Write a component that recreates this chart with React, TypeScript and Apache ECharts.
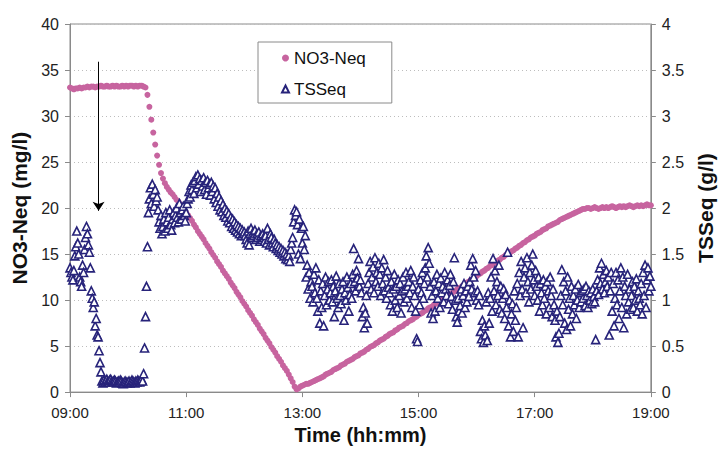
import React, { useEffect, useRef } from "react";
import * as echarts from "echarts";

// Time axis: minutes after 09:00
const X_MAX_MIN = 600;
const X_TICK_STEP_MIN = 120;
const xTickLabels = ["09:00", "11:00", "13:00", "15:00", "17:00", "19:00"];

// NO3-Neq (mg/l), one reading every 2 minutes from 09:00
const NO3_STEP_MIN = 2;
const no3 = [
  33.1, 33.0, 32.9, 33.0, 33.0, 33.1, 33.0, 33.1, 33.1, 33.2,
  33.1, 33.2, 33.2, 33.1, 33.2, 33.2, 33.3, 33.2, 33.2, 33.3,
  33.2, 33.2, 33.3, 33.2, 33.3, 33.2, 33.2, 33.3, 33.2, 33.3,
  33.2, 33.3, 33.3, 33.2, 33.3, 33.2, 33.3, 33.3, 33.2, 33.1,
  32.3, 31.0, 29.6, 28.2, 26.9, 25.7, 24.7, 23.8, 23.2, 22.7,
  22.3, 22.0, 21.7, 21.5, 21.2, 20.9, 20.7, 20.4, 20.1, 19.8,
  19.5, 19.2, 18.9, 18.6, 18.2, 17.9, 17.5, 17.2, 16.9, 16.6,
  16.2, 15.9, 15.6, 15.2, 14.9, 14.6, 14.2, 13.9, 13.6, 13.2,
  12.9, 12.6, 12.3, 11.9, 11.6, 11.3, 10.9, 10.6, 10.3, 9.9,
  9.6, 9.3, 8.9, 8.6, 8.3, 7.9, 7.6, 7.3, 6.9, 6.6,
  6.3, 5.9, 5.6, 5.3, 4.9, 4.6, 4.3, 3.9, 3.6, 3.3,
  2.9, 2.6, 2.3, 1.9, 1.5, 1.1, 0.6, 0.3, 0.4, 0.6,
  0.7, 0.8, 0.9, 0.9, 1.0, 1.1, 1.2, 1.3, 1.4, 1.5,
  1.6, 1.7, 1.9, 2.0, 2.1, 2.2, 2.4, 2.5, 2.6, 2.7,
  2.9, 3.0, 3.1, 3.3, 3.4, 3.5, 3.6, 3.8, 3.9, 4.0,
  4.2, 4.3, 4.4, 4.6, 4.7, 4.9, 5.0, 5.1, 5.3, 5.4,
  5.6, 5.7, 5.8, 6.0, 6.1, 6.3, 6.4, 6.5, 6.7, 6.8,
  7.0, 7.1, 7.2, 7.4, 7.5, 7.7, 7.8, 7.9, 8.1, 8.2,
  8.4, 8.5, 8.6, 8.8, 8.9, 9.1, 9.2, 9.3, 9.5, 9.6,
  9.8, 9.9, 10.0, 10.2, 10.3, 10.5, 10.6, 10.7, 10.9, 11.0,
  11.2, 11.3, 11.4, 11.6, 11.7, 11.9, 12.0, 12.2, 12.3, 12.5,
  12.6, 12.8, 12.9, 13.1, 13.2, 13.4, 13.5, 13.7, 13.8, 14.0,
  14.1, 14.3, 14.4, 14.6, 14.7, 14.9, 15.0, 15.1, 15.3, 15.4,
  15.6, 15.7, 15.9, 16.0, 16.2, 16.3, 16.5, 16.6, 16.8, 16.9,
  17.0, 17.2, 17.3, 17.4, 17.6, 17.7, 17.8, 18.0, 18.1, 18.2,
  18.3, 18.4, 18.5, 18.7, 18.8, 18.9, 19.0, 19.1, 19.2, 19.3,
  19.4, 19.5, 19.6, 19.7, 19.8, 19.9, 19.9, 20.0, 20.0, 19.9,
  20.0, 20.1, 20.0, 19.9, 20.0, 20.1, 20.0, 20.1, 20.0, 20.1,
  20.2, 20.1, 20.0, 20.1, 20.2, 20.1, 20.2, 20.1, 20.2, 20.3,
  20.2, 20.1, 20.2, 20.3, 20.2, 20.3, 20.2, 20.3, 20.4, 20.3,
  20.3,
];

// TSSeq (g/l), one reading every minute from 09:00
const TSS_STEP_MIN = 1;
const tss = [
  1.35, 1.30, 1.25, 1.22, 1.32, 1.48, 1.58, 1.75, 1.62, 1.50,
  1.25, 1.20, 1.15, 1.38, 1.30, 1.55, 1.68, 1.80, 1.72, 1.60,
  1.52, 1.35, 1.10, 1.02, 0.92, 0.98, 0.72, 0.80, 0.62, 0.60,
  0.45, 0.32, 0.22, 0.12, 0.10, 0.13, 0.11, 0.12, 0.14, 0.12,
  0.11, 0.13, 0.14, 0.12, 0.11, 0.12, 0.13, 0.12, 0.10, 0.11,
  0.12, 0.11, 0.13, 0.12, 0.10, 0.09, 0.11, 0.12, 0.11, 0.10,
  0.11, 0.12, 0.10, 0.11, 0.13, 0.12, 0.11, 0.10, 0.12, 0.11,
  0.13, 0.12, 0.11, 0.12, 0.14, 0.12, 0.20, 0.48, 0.82, 1.15,
  1.58, 1.95, 2.10, 2.22, 2.05, 2.26, 2.15, 2.02, 2.20, 2.08,
  2.12, 1.98, 1.85, 1.78, 1.92, 1.72, 1.80, 1.88, 1.75, 1.95,
  1.85, 1.78, 1.90, 1.98, 1.82, 1.76, 1.88, 1.95, 1.84, 1.92,
  2.00, 1.90, 1.85, 2.05, 1.95, 1.88, 1.98, 2.02, 1.92, 1.86,
  1.95, 2.05, 2.10, 2.18, 2.12, 2.25, 2.20, 2.28, 2.16, 2.30,
  2.34, 2.22, 2.36, 2.26, 2.32, 2.18, 2.30, 2.24, 2.33, 2.20,
  2.28, 2.15, 2.30, 2.22, 2.26, 2.14, 2.28, 2.18, 2.24, 2.10,
  2.22, 2.06, 2.16, 2.02, 2.12, 1.98, 2.08, 1.96, 2.04, 1.92,
  2.00, 1.90, 1.97, 1.86, 1.94, 1.84, 1.90, 1.80, 1.88, 1.78,
  1.85, 1.76, 1.82, 1.74, 1.80, 1.72, 1.78, 1.70, 1.76, 1.72,
  1.74, 1.70, 1.66, 1.62, 1.75, 1.60, 1.72, 1.78, 1.68, 1.74,
  1.70, 1.76, 1.66, 1.72, 1.68, 1.74, 1.64, 1.70, 1.66, 1.72,
  1.68, 1.64, 1.70, 1.62, 1.78, 1.66, 1.60, 1.72, 1.68, 1.62,
  1.58, 1.66, 1.62, 1.56, 1.60, 1.54, 1.58, 1.52, 1.56, 1.50,
  1.54, 1.48, 1.52, 1.45, 1.50, 1.44, 1.48, 1.42, 1.55, 1.62,
  1.68, 1.85, 1.98, 1.92, 1.96, 1.82, 1.50, 1.88, 1.45, 1.78,
  1.62, 1.80, 1.55, 1.70, 1.25, 1.38, 1.12, 1.30, 1.02, 1.20,
  1.15, 0.98, 1.28, 1.08, 1.35, 1.02, 0.88, 1.22, 0.75, 1.10,
  0.92, 1.18, 0.72, 1.05, 1.25, 0.95, 1.12, 1.20, 1.00, 1.08,
  1.22, 0.98, 1.15, 0.82, 1.10, 1.26, 1.02, 0.92, 1.18, 1.05,
  0.96, 1.12, 1.20, 0.78, 1.08, 1.00, 1.25, 1.14, 0.88, 1.06,
  1.18, 1.02, 1.28, 1.56, 1.20, 1.10, 1.32, 1.24, 1.45, 1.15,
  1.22, 1.08, 0.82, 0.92, 0.70, 0.86, 1.05, 0.75, 1.18, 1.30,
  1.42, 1.12, 1.25, 1.36, 1.08, 1.46, 1.20, 1.30, 1.15, 1.40,
  1.28, 1.05, 1.35, 1.18, 1.44, 1.10, 1.25, 1.02, 1.32, 1.14,
  1.08, 0.95, 1.20, 0.88, 1.12, 1.28, 1.00, 1.15, 0.92, 1.22,
  1.05, 1.18, 0.86, 1.10, 1.25, 0.98, 1.12, 1.30, 1.02, 1.15,
  1.20, 1.08, 1.32, 0.92, 1.15, 1.25, 1.05, 0.88, 0.58, 0.55,
  1.12, 0.95, 1.22, 1.08, 1.30, 1.02, 1.18, 1.35, 1.48, 1.25,
  1.57, 1.40, 1.15, 0.86, 1.05, 0.80, 1.20, 0.88, 1.10, 1.28,
  1.02, 1.18, 0.92, 1.24, 1.08, 1.15, 0.98, 1.30, 1.12, 1.05,
  1.22, 0.96, 1.16, 1.28, 1.04, 0.90, 1.20, 1.46, 1.00, 0.82,
  0.76, 1.02, 0.88, 0.94, 1.12, 0.86, 1.05, 1.18, 0.92, 1.10,
  0.98, 1.15, 1.04, 1.20, 1.38, 1.12, 1.45, 1.25, 1.08, 1.32,
  1.00, 1.10, 0.95, 1.05, 0.66, 0.58, 0.78, 0.54, 0.72, 0.62,
  0.98, 0.56, 1.08, 0.75, 1.02, 1.25, 0.88, 1.45, 1.10, 1.32,
  0.95, 1.20, 1.05, 1.38, 0.90, 1.15, 0.86, 1.02, 1.12, 0.80,
  1.06, 0.92, 1.52, 0.72, 1.00, 0.60, 0.85, 0.96, 0.66, 1.10,
  0.78, 0.92, 1.18, 0.60, 1.30, 1.05, 1.42, 1.12, 0.70, 1.25,
  1.35, 1.08, 1.46, 1.20, 0.98, 1.30, 1.12, 1.38, 1.50, 1.22,
  1.05, 1.32, 1.15, 1.00, 1.25, 0.88, 1.18, 1.08, 0.95, 1.22,
  1.02, 1.15, 0.85, 1.20, 1.10, 0.92, 1.25, 1.05, 0.82, 1.12,
  0.95, 0.78, 0.60, 0.88, 0.54, 0.64, 0.82, 1.05, 1.33, 0.95,
  1.20, 0.75, 1.10, 0.68, 1.25, 0.90, 1.02, 0.72, 1.15, 0.85,
  1.05, 0.95, 1.12, 0.80, 1.00, 1.17, 0.92, 1.08, 0.98, 1.10,
  1.02, 1.12, 0.94, 1.15, 1.05, 0.92, 1.10, 1.00, 1.08, 0.96,
  1.12, 1.04, 0.98, 0.57, 1.10, 1.22, 1.06, 1.35, 1.18, 1.40,
  1.12, 1.28, 1.08, 1.20, 1.32, 1.15, 1.25, 0.62, 1.10, 1.30,
  0.88, 1.18, 0.72, 1.02, 1.30, 0.95, 1.22, 0.80, 1.10, 1.35,
  0.92, 1.25, 0.70, 1.15, 1.05, 0.85, 1.28, 0.98, 1.12, 0.90,
  1.05, 1.20, 0.92, 1.15, 1.00, 1.23, 0.88, 1.10, 1.02, 0.95,
  1.18, 0.85, 1.30, 1.05, 1.38, 0.92, 1.22, 1.35, 1.10, 1.26,
  1.15,
];

// Annotation arrow (minute, NO3 value) from top to tip
const arrowMinute = 29.5;
const arrowTop = 35.9;
const arrowTip = 19.7;

const FONT = "'Liberation Sans', Arial, Helvetica, sans-serif";
const PINK = "#c7649f";
const NAVY = "#27237a";

export default function App() {
  const ref = useRef<HTMLDivElement>(null);

  useEffect(() => {
    if (!ref.current) return;
    const chart = echarts.init(ref.current, undefined, { renderer: "svg" });

    const no3Data = no3.map((v, i) => [i * NO3_STEP_MIN, v]);
    const tssData = tss.map((v, i) => [i * TSS_STEP_MIN, v]);

    chart.setOption({
      animation: false,
      backgroundColor: "#ffffff",
      textStyle: { fontFamily: FONT },
      grid: {
        left: 70,
        right: 64,
        top: 24,
        bottom: 50,
        show: true,
        borderColor: "#8a8a8a",
        borderWidth: 1,
        backgroundColor: "transparent",
      },
      legend: {
        left: 258,
        top: 42,
        orient: "vertical",
        backgroundColor: "#ffffff",
        borderColor: "#8a8a8a",
        borderWidth: 1,
        borderRadius: 0,
        padding: [6, 26, 4, 23],
        itemWidth: 7,
        itemHeight: 7,
        itemGap: 11,
        textStyle: { fontSize: 17, color: "#111", fontFamily: FONT, lineHeight: 20 },
        data: ["NO3-Neq", "TSSeq"],
      },
      xAxis: {
        type: "value",
        min: 0,
        max: X_MAX_MIN,
        interval: X_TICK_STEP_MIN,
        name: "Time (hh:mm)",
        nameLocation: "middle",
        nameGap: 27,
        nameTextStyle: { fontSize: 20, fontWeight: "bold", color: "#111", fontFamily: FONT },
        axisLine: { lineStyle: { color: "#8a8a8a", width: 1 } },
        axisTick: { show: true, length: 5, lineStyle: { color: "#8a8a8a" } },
        axisLabel: {
          fontSize: 15,
          color: "#222",
          margin: 13,
          fontFamily: FONT,
          formatter: (v: number) => xTickLabels[Math.round(v / X_TICK_STEP_MIN)] ?? "",
        },
        splitLine: { show: false },
      },
      yAxis: [
        {
          type: "value",
          min: 0,
          max: 40,
          interval: 5,
          position: "left",
          name: "NO3-Neq (mg/l)",
          nameLocation: "middle",
          nameRotate: 90,
          nameGap: 38,
          nameTextStyle: { fontSize: 21, fontWeight: "bold", color: "#111", fontFamily: FONT },
          axisLine: { show: true, lineStyle: { color: "#8a8a8a", width: 1 } },
          axisTick: { show: true, length: 5, lineStyle: { color: "#8a8a8a" } },
          axisLabel: { fontSize: 16, color: "#222", margin: 11, fontFamily: FONT },
          splitLine: { show: true, lineStyle: { color: "#bdbdbd", type: [1, 3], width: 1 } },
        },
        {
          type: "value",
          min: 0,
          max: 4,
          interval: 0.5,
          position: "right",
          name: "TSSeq (g/l)",
          nameLocation: "middle",
          nameRotate: 90,
          nameGap: 40,
          nameTextStyle: { fontSize: 21, fontWeight: "bold", color: "#111", fontFamily: FONT },
          axisLine: { show: true, lineStyle: { color: "#8a8a8a", width: 1 } },
          axisTick: { show: true, length: 5, lineStyle: { color: "#8a8a8a" } },
          axisLabel: { fontSize: 16, color: "#222", margin: 11, fontFamily: FONT },
          splitLine: { show: false },
        },
      ],
      series: [
        {
          name: "NO3-Neq",
          type: "scatter",
          yAxisIndex: 0,
          symbol: "circle",
          symbolSize: 6,
          itemStyle: { color: PINK, opacity: 1 },
          data: no3Data,
          z: 2,
          markLine: {
            silent: true,
            symbol: ["none", "arrow"],
            symbolSize: 9,
            label: { show: false },
            lineStyle: { color: "#000000", width: 1, type: "solid", opacity: 1 },
            itemStyle: { color: "#000000" },
            data: [[{ coord: [arrowMinute, arrowTop] }, { coord: [arrowMinute, arrowTip] }]],
          },
        },
        {
          name: "TSSeq",
          type: "scatter",
          yAxisIndex: 1,
          symbol: "triangle",
          symbolSize: 8,
          itemStyle: { color: "#ffffff", borderColor: NAVY, borderWidth: 1.6, opacity: 1 },
          data: tssData,
          z: 3,
        },
      ],
    });

    return () => chart.dispose();
  }, []);

  return (
    <div
      ref={ref}
      style={{ position: "fixed", left: 0, top: 0, width: 724, height: 450, background: "#fff" }}
    />
  );
}
